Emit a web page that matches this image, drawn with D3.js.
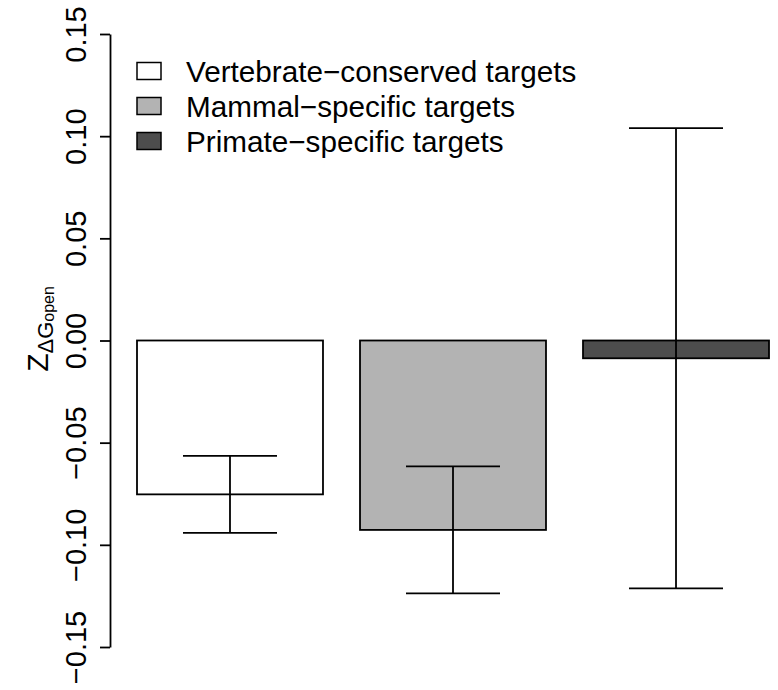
<!DOCTYPE html>
<html>
<head>
<meta charset="utf-8">
<script src="https://cdn.jsdelivr.net/npm/d3@7"></script>
<style>
  body { margin: 0; background: #fff; }
  text { font-family: "Liberation Sans", Arial, Helvetica, sans-serif; fill: #000; }
</style>
</head>
<body>
<div id="chart"></div>
<script>
// data
const categories = ['Vertebrate\u2212conserved targets', 'Mammal\u2212specific targets', 'Primate\u2212specific targets'];
const means = [-0.0753, -0.0927, -0.0087];
const errors = [0.0188, 0.0311, 0.1126];
const fills = ['#ffffff', '#b3b3b3', '#4d4d4d'];
const yTicks = [-0.15, -0.10, -0.05, 0.00, 0.05, 0.10, 0.15];

const width = 778;
const height = 690;

const dataset = categories.map((name, i) => ({ name, value: means[i], err: errors[i], fill: fills[i] }));

const svg = d3.select('#chart').append('svg')
    .attr('width', width)
    .attr('height', height);

svg.append('rect')
    .attr('width', width)
    .attr('height', height)
    .attr('fill', '#fff');

// scales
const xScale = d3.scaleBand()
    .domain(categories)
    .range([137, 769])
    .paddingInner(0.166)
    .paddingOuter(0);

const yScale = d3.scaleLinear()
    .domain([-0.15, 0.15])
    .range([647, 34]);

// y axis
const yAxis = d3.axisLeft(yScale)
    .tickValues(yTicks)
    .tickSize(10)
    .tickSizeOuter(0)
    .tickFormat(d3.format('.2f'));

const gy = svg.append('g')
    .attr('transform', 'translate(110,0)')
    .call(yAxis);
gy.select('.domain').attr('stroke', '#000').attr('stroke-width', 1.8);
gy.selectAll('.tick line').attr('stroke', '#000').attr('stroke-width', 1.8);
gy.selectAll('.tick text')
    .attr('transform', 'rotate(-90)')
    .attr('x', 0)
    .attr('y', -24)
    .attr('dy', null)
    .attr('text-anchor', 'middle')
    .attr('font-size', 29)
    .attr('fill', '#000');

// y label: Z_{ΔG_open}
const ylab = svg.append('text')
    .attr('transform', 'translate(48,329) rotate(-90)')
    .attr('text-anchor', 'middle');
ylab.append('tspan').attr('font-size', 30).text('Z');
ylab.append('tspan').attr('font-size', 22).attr('dy', 5).text('\u0394G');
ylab.append('tspan').attr('font-size', 16).attr('dy', 1).text('open');

// bars
svg.append('g')
    .selectAll('rect')
    .data(dataset)
    .join('rect')
    .attr('x', (d) => xScale(d.name))
    .attr('width', xScale.bandwidth())
    .attr('y', (d) => yScale(Math.max(0, d.value)))
    .attr('height', (d) => Math.abs(yScale(d.value) - yScale(0)))
    .attr('fill', (d) => d.fill)
    .attr('stroke', '#000')
    .attr('stroke-width', 1.8);

// error bars
const capHalf = 47;
const errGroup = svg.append('g')
    .attr('stroke', '#000')
    .attr('stroke-width', 1.8);
dataset.forEach((d) => {
    const cx = xScale(d.name) + xScale.bandwidth() / 2;
    const yTop = yScale(d.value + d.err);
    const yBot = yScale(d.value - d.err);
    errGroup.append('line')
        .attr('x1', cx).attr('x2', cx)
        .attr('y1', yTop).attr('y2', yBot);
    errGroup.append('line')
        .attr('x1', cx - capHalf).attr('x2', cx + capHalf)
        .attr('y1', yTop).attr('y2', yTop);
    errGroup.append('line')
        .attr('x1', cx - capHalf).attr('x2', cx + capHalf)
        .attr('y1', yBot).attr('y2', yBot);
});

// legend
const legend = svg.append('g');
const rowY = d3.scalePoint()
    .domain(categories)
    .range([71, 141]);
legend.selectAll('rect')
    .data(dataset)
    .join('rect')
    .attr('x', 137)
    .attr('y', (d) => rowY(d.name) - 8.5)
    .attr('width', 24)
    .attr('height', 17)
    .attr('fill', (d) => d.fill)
    .attr('stroke', '#000')
    .attr('stroke-width', 1.5);
legend.selectAll('text')
    .data(dataset)
    .join('text')
    .attr('x', 186)
    .attr('y', (d) => rowY(d.name) + 10.5)
    .attr('font-size', 29.7)
    .text((d) => d.name);
</script>
</body>
</html>
